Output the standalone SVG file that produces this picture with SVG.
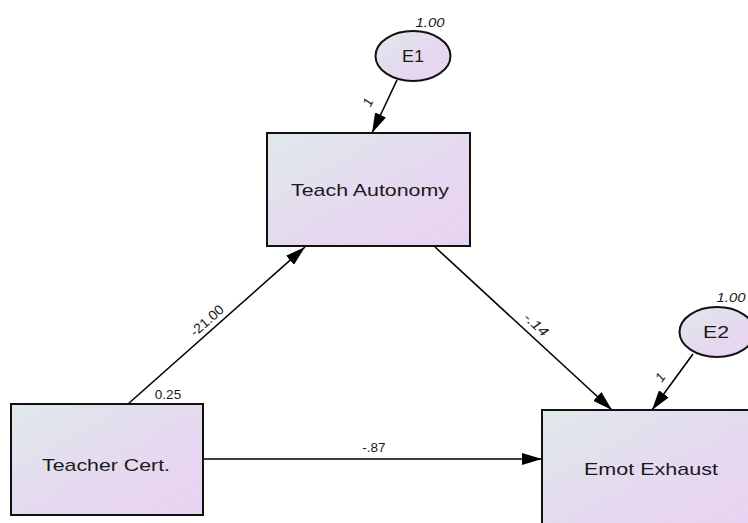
<svg xmlns="http://www.w3.org/2000/svg" width="748" height="523" viewBox="0 0 748 523">
<defs>
<linearGradient id="g" x1="0" y1="0" x2="1" y2="1">
<stop offset="0" stop-color="#dfe9ea"/>
<stop offset="0.6" stop-color="#e6d8f0"/>
<stop offset="1" stop-color="#ead2f2"/>
</linearGradient>
<marker id="a" viewBox="0 0 20 12" refX="20" refY="6" markerWidth="20" markerHeight="12" markerUnits="userSpaceOnUse" orient="auto">
<path d="M0,0 L20,6 L0,12 z" fill="#000"/>
</marker>
</defs>
<style>
.box{fill:url(#g);stroke:#111;stroke-width:2}
.lbl{font-family:"Liberation Sans",Arial,sans-serif;font-size:17px;fill:#1a1a1a;text-anchor:middle}
.el{font-family:"Liberation Sans",Arial,sans-serif;font-size:13.5px;fill:#1a1a1a;text-anchor:middle}
.it{font-style:italic}
.con{stroke:#000;stroke-width:1.6;fill:none;marker-end:url(#a)}
</style>
<g id="connectors">
<line class="con" x1="397" y1="80" x2="372" y2="133"/>
<line class="con" x1="693" y1="354" x2="652" y2="410"/>
<line class="con" x1="128" y1="404" x2="305" y2="247"/>
<line class="con" x1="435" y1="247" x2="612" y2="410"/>
<line class="con" x1="204" y1="459" x2="542" y2="459"/>
<text class="el it" transform="translate(372,104) rotate(-65)">1</text>
<text class="el it" transform="translate(664,380) rotate(-54)">1</text>
<text class="el" transform="translate(210,324) rotate(-41.8)" textLength="40" lengthAdjust="spacingAndGlyphs">-21.00</text>
<text class="el it" transform="translate(533,328) rotate(42.8)" textLength="28" lengthAdjust="spacingAndGlyphs">-.14</text>
<text class="el" x="374" y="452">-.87</text>
<text class="el" x="168" y="399">0.25</text>
</g>
<g id="E1">
<ellipse class="box" cx="413" cy="56" rx="37.5" ry="25"/>
<text class="lbl" x="413" y="62" textLength="22" lengthAdjust="spacingAndGlyphs">E1</text>
<text class="el it" x="430" y="27" textLength="29" lengthAdjust="spacingAndGlyphs">1.00</text>
</g>
<g id="E2">
<ellipse class="box" cx="717" cy="332" rx="37.5" ry="25"/>
<text class="lbl" x="716" y="338" textLength="26" lengthAdjust="spacingAndGlyphs">E2</text>
<text class="el it" x="731" y="302" textLength="29" lengthAdjust="spacingAndGlyphs">1.00</text>
</g>
<g id="teach_autonomy">
<rect class="box" x="267" y="133" width="203" height="113"/>
<text class="lbl" x="370" y="196" textLength="158" lengthAdjust="spacingAndGlyphs">Teach Autonomy</text>
</g>
<g id="teacher_cert">
<rect class="box" x="11" y="404" width="192" height="111"/>
<text class="lbl" x="106" y="471" textLength="128" lengthAdjust="spacingAndGlyphs">Teacher Cert.</text>
</g>
<g id="emot_exhaust">
<rect class="box" x="542" y="410" width="220" height="120"/>
<text class="lbl" x="651" y="475" textLength="134" lengthAdjust="spacingAndGlyphs">Emot Exhaust</text>
</g>
</svg>
